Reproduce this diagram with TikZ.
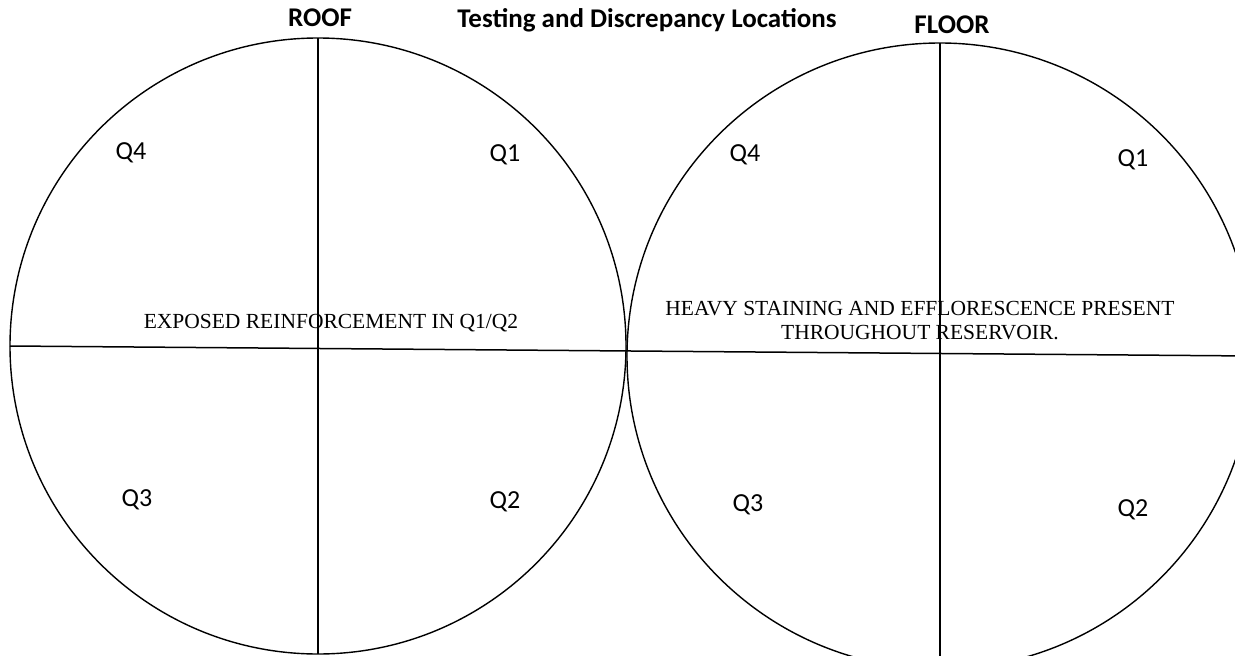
\documentclass[tikz,border=0pt]{standalone}
\usepackage{fontspec}
\setmainfont{Liberation Serif}
\newfontfamily\labelfont{Carlito}
\usepackage{tikz}
\usetikzlibrary{positioning}

\tikzset{
  ring/.style={draw, circle, line width=1.4pt, inner sep=0pt, outer sep=0pt, minimum size=#1},
  split/.style={line width=1.5pt},
  heading/.style={font=\labelfont\bfseries\fontsize{27}{30}\selectfont, inner sep=0pt},
  quad/.style={font=\labelfont\fontsize{26}{30}\selectfont, inner sep=0pt},
  remark/.style={font=\fontsize{21.5}{24}\selectfont, inner sep=0pt, align=center}
}

\begin{document}
\begin{tikzpicture}[x=1pt, y=-1pt]
    \useasboundingbox (0,0) rectangle (1235,656);
    \clip (0,0) rectangle (1235,656);

    % Titles
    \node[heading] (rooftitle) at (320,18) {ROOF};
    \node[heading] (maintitle) at (647,20) {Testing and Discrepancy Locations};
    \node[heading] (floortitle) at (952,25) {FLOOR};

    % Circles
    \node[ring=616pt] (roof) at (318,346) {};
    \node[ring=626pt] (floor) at (940,356) {};

    % Quadrant lines
    \draw[split] (roof.north) -- (roof.south);
    \draw[split] (floor.north) -- (floor.south);
    \draw[split] (roof.west) -- (floor.east);

    % Quadrant labels (roof)
    \node[quad] (rq4) at (131,153) {Q4};
    \node[quad] (rq1) at (505,155) {Q1};
    \node[quad] (rq3) at (137,500) {Q3};
    \node[quad] (rq2) at (505,502) {Q2};

    % Quadrant labels (floor)
    \node[quad] (fq4) at (745,155) {Q4};
    \node[quad] (fq1) at (1133,160) {Q1};
    \node[quad] (fq3) at (748,505) {Q3};
    \node[quad] (fq2) at (1133,510) {Q2};

    % Discrepancy notes
    \node[remark] (roofnote) at (331,323) {EXPOSED REINFORCEMENT IN Q1/Q2};
    \node[remark] (floornote) at (920,321) {HEAVY STAINING AND EFFLORESCENCE PRESENT\\ THROUGHOUT RESERVOIR.};
\end{tikzpicture}
\end{document}
